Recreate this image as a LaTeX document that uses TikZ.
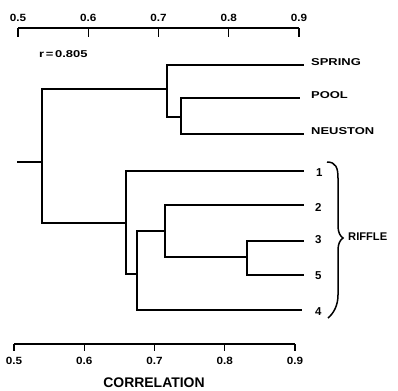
\documentclass[tikz,border=0pt]{standalone}
\usepackage{fontspec}
\setmainfont{Liberation Sans}
\newfontfamily\widefont[FakeStretch=1.3]{Liberation Sans}
\newfontfamily\semiwide[FakeStretch=1.12]{Liberation Sans}
\begin{document}
\begin{tikzpicture}[x=1bp,y=-1bp,
  tree/.style={line width=1.8bp, line join=miter},
  axisline/.style={line width=1.4bp},
  leaflab/.style={font=\widefont\bfseries\fontsize{10}{11}\selectfont, anchor=west, inner sep=0pt},
  numlab/.style={font=\bfseries\fontsize{11.5}{12}\selectfont, anchor=west, inner sep=0pt},
  ticklab/.style={font=\semiwide\bfseries\fontsize{10.5}{11}\selectfont, inner sep=0pt},
  bigfont/.style={font=\bfseries\fontsize{14}{15}\selectfont, inner sep=0pt},
  bracestyle/.style={line width=1.5bp}
]
\useasboundingbox (0,0) rectangle (398,391);
\fill[white] (0,0) rectangle (398,391);

% top axis
\coordinate (ta0) at (18,28);
\coordinate (ta1) at (299,28);
\draw[axisline] (ta0) -- (ta1);
\foreach \v/\x in {5/18,6/88.25,7/158.5,8/228.75,9/299} {
  \coordinate (tt\v) at (\x,28);
  \draw[axisline] (tt\v) -- ++(0,9);
  \node[ticklab] (tl\v) at (\x,17.5) {0.\v};
}

% bottom axis
\coordinate (ba0) at (14,344);
\coordinate (ba1) at (295,344);
\draw[axisline] (ba0) -- (ba1);
\foreach \v/\x in {5/14,6/84.25,7/154.5,8/224.75,9/295} {
  \coordinate (bt\v) at (\x,344);
  \draw[axisline] (bt\v) -- ++(0,7);
  \node[ticklab] (bl\v) at (\x,361) {0.\v};
}
\node[bigfont] (corr) at (154,383) {CORRELATION};

\node[leaflab, anchor=west] (rval) at (39,54) {r\,=\,0.805};

% dendrogram coordinates
\coordinate (stub) at (17,162);
\coordinate (R) at (42,162);
\coordinate (A) at (167,89);
\coordinate (C) at (181,117);
\coordinate (B) at (126,223);
\coordinate (D) at (137,274);
\coordinate (E) at (165,231);
\coordinate (F) at (247,257);

\coordinate (lS) at (304,65);
\coordinate (lP) at (300,98);
\coordinate (lN) at (304,134);
\coordinate (l1) at (304,171);
\coordinate (l2) at (304,205);
\coordinate (l3) at (304,241);
\coordinate (l5) at (304,275);
\coordinate (l4) at (302,310);

\draw[tree] (stub) -- (R);
\draw[tree] (R) |- (A);
\draw[tree] (R) |- (B);
\draw[tree] (A) |- (lS);
\draw[tree] (A) |- (C);
\draw[tree] (C) |- (lP);
\draw[tree] (C) |- (lN);
\draw[tree] (B) |- (l1);
\draw[tree] (B) |- (D);
\draw[tree] (D) |- (E);
\draw[tree] (D) |- (l4);
\draw[tree] (E) |- (l2);
\draw[tree] (E) |- (F);
\draw[tree] (F) |- (l3);
\draw[tree] (F) |- (l5);

% labels
\node[leaflab] (spring) at (311,62.5) {SPRING};
\node[leaflab] (pool) at (311,95.5) {POOL};
\node[leaflab] (neuston) at (311,131.5) {NEUSTON};
\node[numlab] (n1) at (316,173) {1};
\node[numlab] (n2) at (315,207) {2};
\node[numlab] (n3) at (315,240) {3};
\node[numlab] (n5) at (315,276) {5};
\node[numlab] (n4) at (315,312) {4};

% brace
\coordinate (btop) at (327,162);
\coordinate (btip) at (343,238);
\coordinate (bbot) at (328,318);
\draw[bracestyle] (btop) .. controls (336,162) and (338,168) .. (338,178)
  -- (338,226) .. controls (338,232) and (340,236) .. (btip)
  .. controls (340,240) and (338,244) .. (338,250)
  -- (338,295) .. controls (338,305) and (334,313) .. (bbot);
\node[font=\bfseries\fontsize{11.2}{12}\selectfont, anchor=west, inner sep=0pt] (riffle) at (348,237) {RIFFLE};
\end{tikzpicture}
\end{document}
